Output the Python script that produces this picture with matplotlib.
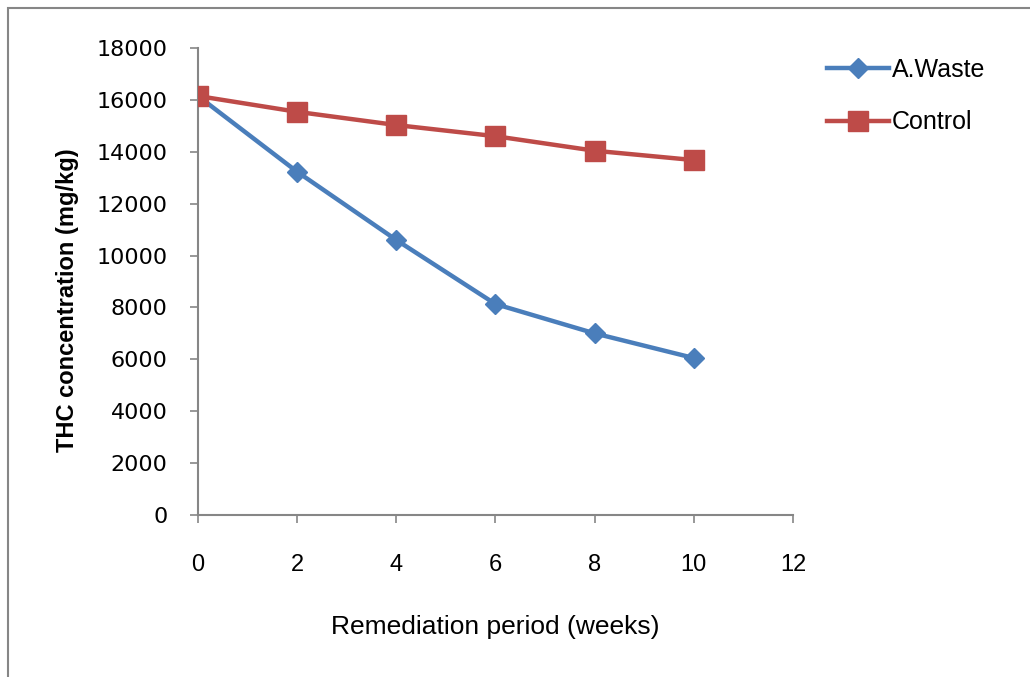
import matplotlib.pyplot as plt
from matplotlib.patches import Rectangle

weeks = [0, 2, 4, 6, 8, 10]
a_waste = [16150, 13230, 10600, 8130, 7000, 6050]
control = [16150, 15540, 15030, 14600, 14040, 13680]
y_ticks = list(range(0, 18001, 2000))
x_ticks = list(range(0, 13, 2))

plt.rcParams['font.family'] = ['Liberation Sans', 'DejaVu Sans']

fig = plt.figure(figsize=(10.3, 6.77), dpi=100)
ax = fig.add_axes([0.1922, 0.2393, 0.5777, 0.6898])

ax.plot(weeks, a_waste, color='#4A7EBB', lw=3.2, marker='D', ms=10,
        label='A.Waste', solid_joinstyle='round')
ax.plot(weeks, control, color='#BE4B48', lw=3.2, marker='s', ms=15,
        label='Control', solid_joinstyle='round')

ax.set_xlim(0, 12)
ax.set_ylim(0, 18000)
ax.set_xticks(x_ticks)
ax.set_yticks(y_ticks)
ax.tick_params(axis='y', direction='out', length=6, width=1.2, color='#868686',
               pad=16, labelsize=16)
ax.tick_params(axis='x', direction='out', length=6, width=1.2, color='#868686',
               pad=22, labelsize=17)
for lbl in ax.get_yticklabels():
    lbl.set_family('DejaVu Sans')
for side in ['top', 'right']:
    ax.spines[side].set_visible(False)
for side in ['left', 'bottom']:
    ax.spines[side].set_color('#868686')
    ax.spines[side].set_linewidth(1.5)
ax.spines['left'].set_zorder(0)

ax.set_ylabel('THC concentration (mg/kg)', fontsize=17, fontweight='bold')
ax.yaxis.set_label_coords(-0.200, 0.46)
ax.set_xlabel('Remediation period (weeks)', fontsize=19, labelpad=28)

fig.legend(loc='upper left', bbox_to_anchor=(0.781, 0.948), frameon=False,
           fontsize=18, labelspacing=1.15, handlelength=2.5, handletextpad=0.1)

# outer chart border
fig.patches.append(Rectangle((8 / 1030, -0.05), 1.1, 0.05 + 1 - 8 / 677,
                             transform=fig.transFigure, fill=False,
                             edgecolor='#868686', lw=1.5))

fig.savefig('out.png', dpi=100)
